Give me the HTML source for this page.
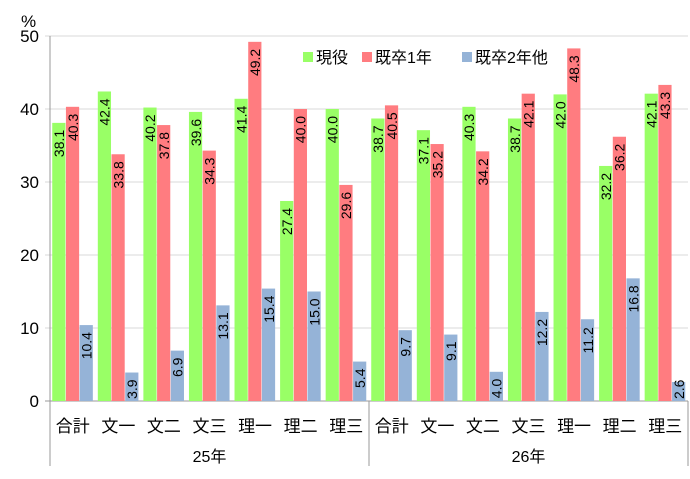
<!DOCTYPE html>
<html><head><meta charset="utf-8"><style>
body{margin:0;background:#fff}
svg text{font-family:"Liberation Sans","Noto Sans CJK JP",sans-serif;fill:#000}
</style></head><body>
<svg id="c" width="690" height="474"></svg>
<script>
const groups=["25年","26年"];
const categories=["合計","文一","文二","文三","理一","理二","理三","合計","文一","文二","文三","理一","理二","理三"];
const genki=[38.1,42.4,40.2,39.6,41.4,27.4,40.0,38.7,37.1,40.3,38.7,42.0,32.2,42.1];
const kisotsu1=[40.3,33.8,37.8,34.3,49.2,40.0,29.6,40.5,35.2,34.2,42.1,48.3,36.2,43.3];
const kisotsu2=[10.4,3.9,6.9,13.1,15.4,15.0,5.4,9.7,9.1,4.0,12.2,11.2,16.8,2.6];
const yTicks=[0,10,20,30,40,50];
const seriesNames=["現役","既卒1年","既卒2年他"];
const colors=["#99FF66","#FF7C80","#95B3D7"];
const svg=document.getElementById('c');const NS="http://www.w3.org/2000/svg";
function mk(t,a,p){const e=document.createElementNS(NS,t);for(const k in a)e.setAttribute(k,a[k]);(p||svg).appendChild(e);return e;}
const x0=50,x1=688,yb=401,yt=36;
const y=v=>yb-(v/50)*(yb-yt);
const gw=(x1-x0)/categories.length;
yTicks.forEach(t=>{
 const g=mk('line',{x1:x0-5,x2:x1,y1:y(t),y2:y(t),stroke:t==0?'#999':'#d9d9d9'});
 
 const tx=mk('text',{x:39,y:y(t)+6,'text-anchor':'end','font-size':17});tx.textContent=t;
 
});
const u=mk('text',{x:21,y:27,'font-size':17});u.textContent='%';

mk('line',{x1:x0,x2:x0,y1:yt,y2:466,stroke:'#999'});
const series=[genki,kisotsu1,kisotsu2];
const bw=13.7,pad=(gw-3*bw)/2;
categories.forEach((c,i)=>{
 series.forEach((s,j)=>{
  const bx=x0+i*gw+pad+j*bw,v=s[i];
  const r=mk('rect',{x:bx,y:y(v),width:bw-0.5,height:yb-y(v),fill:colors[j]});
  
  const lbl=v.toFixed(1),len=lbl.length*7.8;
  let start=y(v)+3+len;if(start>yb-2)start=yb-2;
  const cx=bx+bw/2+5;
  const t=mk('text',{x:0,y:0,'font-size':14,transform:`translate(${cx},${start}) rotate(-90)`});t.textContent=lbl;
  
 });
 const cl=mk('text',{x:x0+(i+0.5)*gw,y:432,'text-anchor':'middle','font-size':17});cl.textContent=c;
 
});
groups.forEach((g,k)=>{
 const gx=x0+(k+1)*7*gw;
 mk('line',{x1:gx,x2:gx,y1:yb,y2:466,stroke:'#999'});
 const t=mk('text',{x:x0+(k+0.5)*7*gw,y:462,'text-anchor':'middle','font-size':16});t.textContent=g;
 
});
const lx=[303,362,462];
seriesNames.forEach((n,j)=>{
 const r=mk('rect',{x:lx[j],y:52,width:10,height:10,fill:colors[j]});
 
 const t=mk('text',{x:lx[j]+13,y:63,'font-size':16});t.textContent=n;
 
});
</script></body></html>
